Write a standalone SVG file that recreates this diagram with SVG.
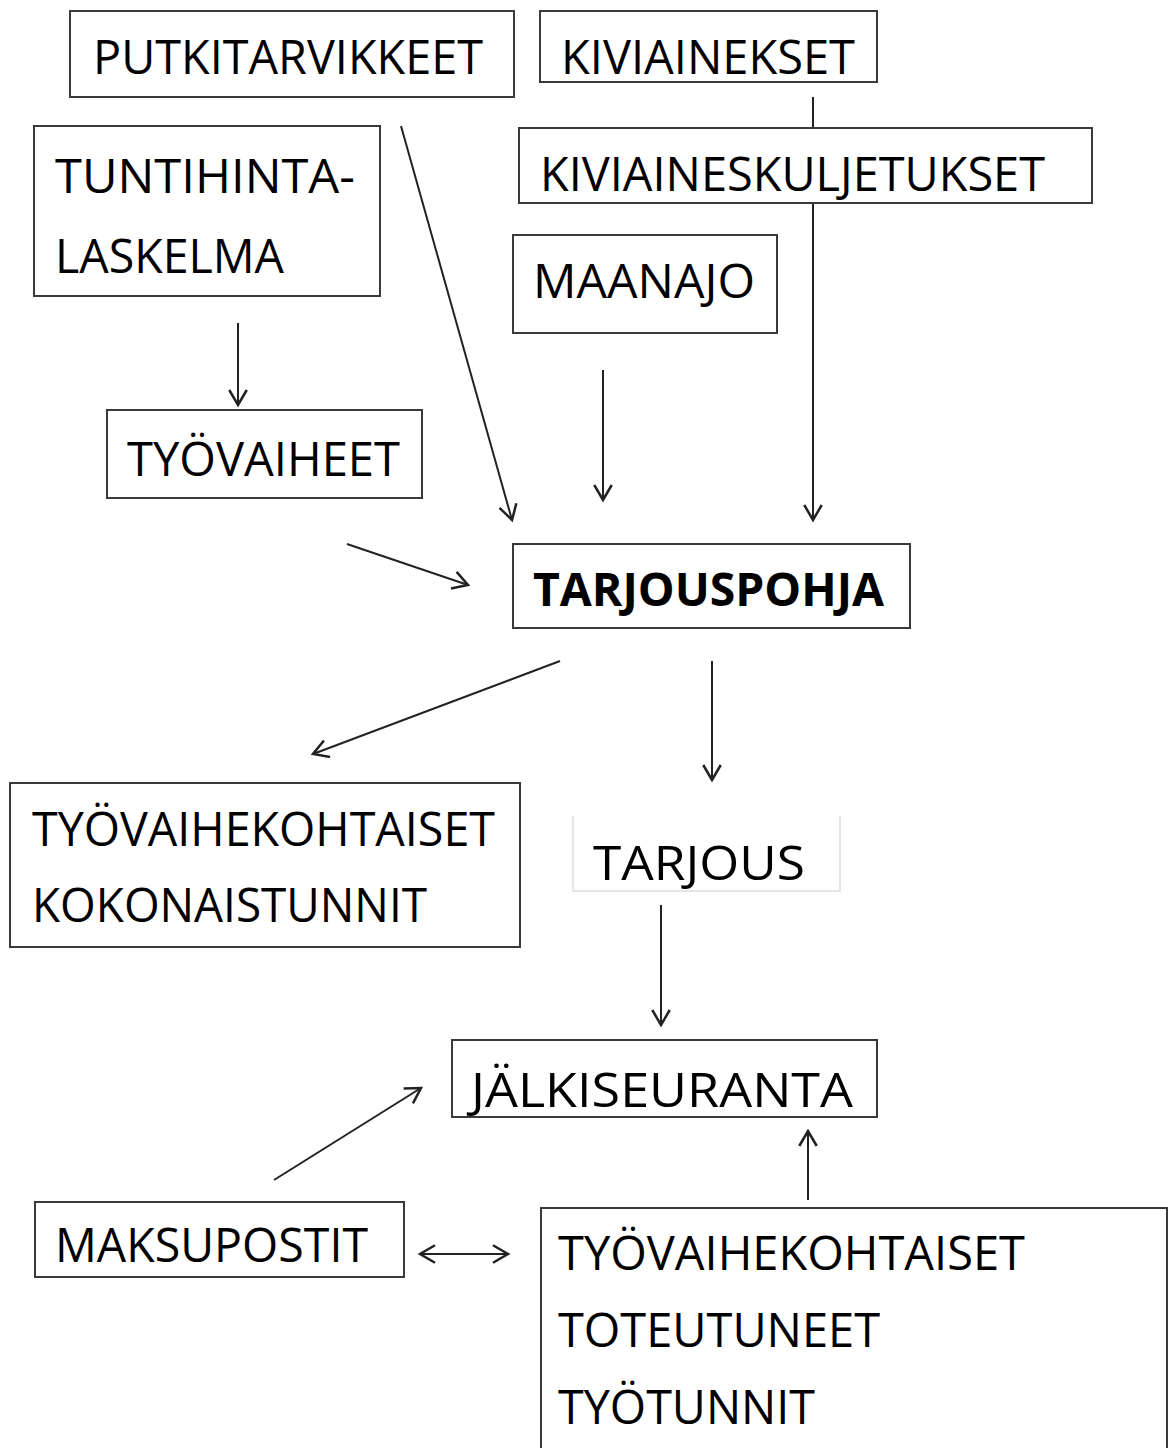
<svg xmlns="http://www.w3.org/2000/svg" width="1171" height="1448" viewBox="0 0 1171 1448">
<style>
.box{fill:#fff;stroke:#3a3a3a;stroke-width:2}
.t{font-family:"Open Sans","Noto Sans",sans-serif;font-size:47px;fill:#000}
.b{font-weight:bold}
.c{stroke:#222;stroke-width:2;fill:none}
</style>
<defs>
<marker id="ah" markerUnits="userSpaceOnUse" markerWidth="20" markerHeight="20" refX="14" refY="8" orient="auto-start-reverse" viewBox="0 0 16 16">
<path d="M2,1 L14,8 L2,15" fill="none" stroke="#222" stroke-width="2"/>
</marker>
</defs>
<rect width="1171" height="1448" fill="#fff"/>
<g id="connectors">
<line class="c" x1="238" y1="323" x2="238" y2="405" marker-end="url(#ah)"/>
<line class="c" x1="401" y1="126" x2="512" y2="520" marker-end="url(#ah)"/>
<line class="c" x1="603" y1="370" x2="603" y2="500" marker-end="url(#ah)"/>
<line class="c" x1="813" y1="97" x2="813" y2="520" marker-end="url(#ah)"/>
<line class="c" x1="347" y1="544" x2="468" y2="585" marker-end="url(#ah)"/>
<line class="c" x1="560" y1="661" x2="313" y2="754" marker-end="url(#ah)"/>
<line class="c" x1="712" y1="661" x2="712" y2="780" marker-end="url(#ah)"/>
<line class="c" x1="661" y1="905" x2="661" y2="1025" marker-end="url(#ah)"/>
<line class="c" x1="274" y1="1180" x2="421" y2="1088" marker-end="url(#ah)"/>
<line class="c" x1="808" y1="1200" x2="808" y2="1131" marker-end="url(#ah)"/>
<line class="c" x1="420" y1="1254" x2="508" y2="1254" marker-start="url(#ah)" marker-end="url(#ah)"/>
</g>
<g id="putkitarvikkeet"><rect class="box" x="70" y="11" width="444" height="86"/><text class="t" x="93" y="74" textLength="390" lengthAdjust="spacingAndGlyphs">PUTKITARVIKKEET</text></g>
<g id="kiviainekset"><rect class="box" x="540" y="11" width="337" height="71"/><text class="t" x="561" y="74" textLength="294" lengthAdjust="spacingAndGlyphs">KIVIAINEKSET</text></g>
<g id="tuntihintalaskelma"><rect class="box" x="34" y="126" width="346" height="170"/><text class="t" x="55" y="193" textLength="300" lengthAdjust="spacingAndGlyphs">TUNTIHINTA-</text><text class="t" x="55" y="273" textLength="229" lengthAdjust="spacingAndGlyphs">LASKELMA</text></g>
<g id="kiviaineskuljetukset"><rect class="box" x="519" y="128" width="573" height="75"/><text class="t" x="540" y="191" textLength="505" lengthAdjust="spacingAndGlyphs">KIVIAINESKULJETUKSET</text></g>
<g id="maanajo"><rect class="box" x="513" y="235" width="264" height="98"/><text class="t" x="533" y="298" textLength="222" lengthAdjust="spacingAndGlyphs">MAANAJO</text></g>
<g id="tyovaiheet"><rect class="box" x="107" y="410" width="315" height="88"/><text class="t" x="127" y="476" textLength="273" lengthAdjust="spacingAndGlyphs">TYÖVAIHEET</text></g>
<g id="tarjouspohja"><rect class="box" x="513" y="544" width="397" height="84"/><text class="t b" x="533" y="606" textLength="351" lengthAdjust="spacingAndGlyphs">TARJOUSPOHJA</text></g>
<g id="kokonaistunnit"><rect class="box" x="10" y="783" width="510" height="164"/><text class="t" x="32" y="846" textLength="463" lengthAdjust="spacingAndGlyphs">TYÖVAIHEKOHTAISET</text><text class="t" x="32" y="922" textLength="395" lengthAdjust="spacingAndGlyphs">KOKONAISTUNNIT</text></g>
<g id="tarjous"><path d="M573,816 V891 H840 V816" fill="#fff" stroke="#ddd" stroke-width="1.5"/><text class="t" x="593" y="880" textLength="212" lengthAdjust="spacingAndGlyphs">TARJOUS</text></g>
<g id="jalkiseuranta"><rect class="box" x="452" y="1040" width="425" height="77"/><text class="t" x="471" y="1107" textLength="382" lengthAdjust="spacingAndGlyphs">JÄLKISEURANTA</text></g>
<g id="maksupostit"><rect class="box" x="35" y="1202" width="369" height="75"/><text class="t" x="55" y="1262" textLength="313" lengthAdjust="spacingAndGlyphs">MAKSUPOSTIT</text></g>
<g id="toteutuneet"><rect class="box" x="541" y="1208" width="626" height="250"/><text class="t" x="558" y="1270" textLength="467" lengthAdjust="spacingAndGlyphs">TYÖVAIHEKOHTAISET</text><text class="t" x="558" y="1347" textLength="322" lengthAdjust="spacingAndGlyphs">TOTEUTUNEET</text><text class="t" x="558" y="1424" textLength="257" lengthAdjust="spacingAndGlyphs">TYÖTUNNIT</text></g>
</svg>
